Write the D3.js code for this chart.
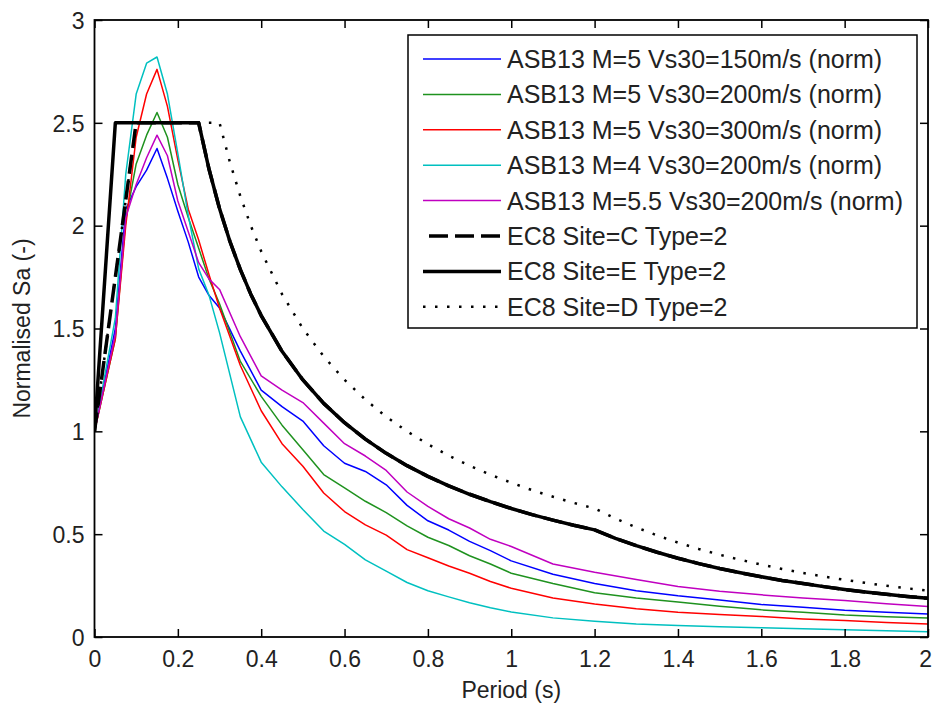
<!DOCTYPE html>
<html>
<head>
<meta charset="utf-8">
<script src="https://cdn.jsdelivr.net/npm/d3@7"></script>
<style>
  html, body { margin: 0; padding: 0; background: #ffffff; }
  svg { display: block; font-family: "Liberation Sans", Arial, Helvetica, sans-serif; }
</style>
</head>
<body>
<svg id="chart" width="932" height="704"></svg>
<script>
// ---------------- DATA ----------------
const xTicks = [0, 0.2, 0.4, 0.6, 0.8, 1, 1.2, 1.4, 1.6, 1.8, 2];
const yTicks = [0, 0.5, 1, 1.5, 2, 2.5, 3];

const asbPeriods = [0, 0.05, 0.075, 0.1, 0.125, 0.15, 0.175, 0.2, 0.225, 0.25, 0.275, 0.3,
  0.35, 0.4, 0.45, 0.5, 0.55, 0.6, 0.65, 0.7, 0.75, 0.8, 0.85, 0.9, 0.95, 1.0,
  1.1, 1.2, 1.3, 1.4, 1.5, 1.6, 1.7, 1.8, 1.9, 2.0];

const asbM5Vs150 = [1.0, 1.5, 2.08, 2.19, 2.27, 2.375, 2.23, 2.07, 1.92, 1.75, 1.66, 1.60,
  1.39, 1.20, 1.12, 1.05, 0.93, 0.845, 0.805, 0.74, 0.64, 0.565, 0.52, 0.465, 0.42, 0.37,
  0.305, 0.26, 0.225, 0.2, 0.18, 0.158, 0.145, 0.13, 0.12, 0.112];
const asbM5Vs200 = [1.0, 1.45, 2.03, 2.3, 2.44, 2.55, 2.43, 2.2, 2.04, 1.89, 1.74, 1.62,
  1.34, 1.17, 1.03, 0.91, 0.79, 0.725, 0.66, 0.605, 0.54, 0.485, 0.445, 0.395, 0.355, 0.31,
  0.26, 0.215, 0.19, 0.17, 0.15, 0.132, 0.12, 0.107, 0.099, 0.092];
const asbM5Vs300 = [1.0, 1.45, 2.0, 2.43, 2.64, 2.76, 2.58, 2.32, 2.08, 1.93, 1.76, 1.6,
  1.32, 1.1, 0.94, 0.83, 0.70, 0.61, 0.545, 0.495, 0.425, 0.385, 0.345, 0.31, 0.27, 0.237,
  0.19, 0.16, 0.137, 0.12, 0.11, 0.1, 0.088, 0.08, 0.07, 0.063];
const asbM4Vs200 = [1.0, 1.55, 2.25, 2.64, 2.79, 2.82, 2.64, 2.35, 2.05, 1.79, 1.66, 1.48,
  1.07, 0.85, 0.73, 0.62, 0.515, 0.45, 0.375, 0.32, 0.265, 0.225, 0.195, 0.167, 0.142, 0.122,
  0.093, 0.077, 0.063, 0.056, 0.05, 0.045, 0.04, 0.035, 0.03, 0.026];
const asbM55Vs200 = [1.0, 1.47, 2.04, 2.2, 2.33, 2.44, 2.34, 2.12, 1.97, 1.82, 1.74, 1.69,
  1.46, 1.27, 1.2, 1.14, 1.04, 0.94, 0.88, 0.81, 0.705, 0.635, 0.575, 0.53, 0.475, 0.44,
  0.355, 0.315, 0.28, 0.245, 0.222, 0.205, 0.19, 0.177, 0.162, 0.148];

const ec8TailPeriods = [0.25, 0.275, 0.3, 0.325, 0.35, 0.375, 0.4, 0.45, 0.5, 0.55, 0.6, 0.65,
  0.7, 0.75, 0.8, 0.85, 0.9, 0.95, 1.0, 1.05, 1.1, 1.15, 1.2, 1.25, 1.3, 1.35, 1.4, 1.45,
  1.5, 1.55, 1.6, 1.65, 1.7, 1.75, 1.8, 1.85, 1.9, 1.95, 2.0];
const ec8TailValues = [2.5, 2.273, 2.083, 1.923, 1.786, 1.667, 1.563, 1.389, 1.25, 1.136, 1.042, 0.962,
  0.893, 0.833, 0.781, 0.735, 0.694, 0.658, 0.625, 0.595, 0.568, 0.543, 0.521, 0.48, 0.444, 0.412,
  0.383, 0.357, 0.333, 0.312, 0.293, 0.275, 0.26, 0.245, 0.231, 0.219, 0.208, 0.197, 0.188];

const ec8C_periods = [0, 0.1].concat(ec8TailPeriods);
const ec8C_values = [1, 2.5].concat(ec8TailValues);
const ec8E_periods = [0, 0.05].concat(ec8TailPeriods);
const ec8E_values = [1, 2.5].concat(ec8TailValues);
const ec8D_periods = [0, 0.1, 0.3, 0.325, 0.35, 0.375, 0.4, 0.45, 0.5, 0.55, 0.6, 0.65, 0.7,
  0.75, 0.8, 0.85, 0.9, 0.95, 1.0, 1.05, 1.1, 1.15, 1.2, 1.25, 1.3, 1.35, 1.4, 1.45, 1.5,
  1.55, 1.6, 1.65, 1.7, 1.75, 1.8, 1.85, 1.9, 1.95, 2.0];
const ec8D_values = [1, 2.5, 2.5, 2.308, 2.143, 2.0, 1.875, 1.667, 1.5, 1.364, 1.25, 1.154, 1.071,
  1.0, 0.9375, 0.882, 0.833, 0.789, 0.75, 0.714, 0.682, 0.652, 0.625, 0.576, 0.533, 0.494,
  0.459, 0.428, 0.4, 0.375, 0.352, 0.331, 0.311, 0.294, 0.278, 0.263, 0.249, 0.237, 0.225];

const seriesNames = [
  "ASB13 M=5 Vs30=150m/s (norm)",
  "ASB13 M=5 Vs30=200m/s (norm)",
  "ASB13 M=5 Vs30=300m/s (norm)",
  "ASB13 M=4 Vs30=200m/s (norm)",
  "ASB13 M=5.5 Vs30=200m/s (norm)",
  "EC8 Site=C Type=2",
  "EC8 Site=E Type=2",
  "EC8 Site=D Type=2"
];

// ---------------- BUILD ----------------
const series = [
  { name: seriesNames[0], x: asbPeriods, y: asbM5Vs150, color: "#0000ff", width: 1.5, dash: null },
  { name: seriesNames[1], x: asbPeriods, y: asbM5Vs200, color: "#1f921f", width: 1.5, dash: null },
  { name: seriesNames[2], x: asbPeriods, y: asbM5Vs300, color: "#ff0000", width: 1.5, dash: null },
  { name: seriesNames[3], x: asbPeriods, y: asbM4Vs200, color: "#00c0c0", width: 1.5, dash: null },
  { name: seriesNames[4], x: asbPeriods, y: asbM55Vs200, color: "#c000c0", width: 1.5, dash: null },
  { name: seriesNames[5], x: ec8C_periods, y: ec8C_values, color: "#000000", width: 3.5, dash: "19 7" },
  { name: seriesNames[6], x: ec8E_periods, y: ec8E_values, color: "#000000", width: 3.5, dash: null },
  { name: seriesNames[7], x: ec8D_periods, y: ec8D_values, color: "#000000", width: 2.5, dash: "2.5 9.5" }
];

const W = 932, H = 704;
const plot = { left: 94.5, right: 928, top: 20, bottom: 637 };

const svg = d3.select("#chart");
svg.append("rect").attr("x", 0).attr("y", 0).attr("width", W).attr("height", H).attr("fill", "#fff");

const x = d3.scaleLinear().domain([0, 2]).range([plot.left, plot.right]);
const y = d3.scaleLinear().domain([0, 3]).range([plot.bottom, plot.top]);

svg.append("clipPath").attr("id", "clip")
  .append("rect").attr("x", plot.left).attr("y", plot.top)
  .attr("width", plot.right - plot.left).attr("height", plot.bottom - plot.top);

const line = d3.line().x(d => x(d[0])).y(d => y(d[1]));

const lines = svg.append("g").attr("clip-path", "url(#clip)");
series.forEach(s => {
  const pts = s.x.map((t, i) => [t, s.y[i]]);
  lines.append("path")
    .datum(pts)
    .attr("d", line)
    .attr("fill", "none")
    .attr("stroke", s.color)
    .attr("stroke-width", s.width)
    .attr("stroke-dasharray", s.dash)
    .attr("stroke-linejoin", "round");
});

// axes
const fontSize = 23;
const tickLen = 8;
const fmt = d3.format("");

const gBottom = svg.append("g").attr("transform", `translate(0,${plot.bottom})`)
  .call(d3.axisBottom(x).tickValues(xTicks).tickFormat(d => fmt(d))
    .tickSizeInner(-tickLen).tickSizeOuter(0).tickPadding(14));
const gTop = svg.append("g").attr("transform", `translate(0,${plot.top})`)
  .call(d3.axisBottom(x).tickValues(xTicks).tickFormat("")
    .tickSizeInner(tickLen).tickSizeOuter(0));
const gLeft = svg.append("g").attr("transform", `translate(${plot.left},0)`)
  .call(d3.axisLeft(y).tickValues(yTicks).tickFormat(d => fmt(d))
    .tickSizeInner(-tickLen).tickSizeOuter(0).tickPadding(10));
const gRight = svg.append("g").attr("transform", `translate(${plot.right},0)`)
  .call(d3.axisLeft(y).tickValues(yTicks).tickFormat("")
    .tickSizeInner(tickLen).tickSizeOuter(0));

[gBottom, gTop, gLeft, gRight].forEach(g => {
  g.select(".domain").remove();
  g.selectAll(".tick line").attr("stroke", "#000").attr("stroke-width", 1.5);
  g.selectAll(".tick text").attr("fill", "#222").style("font-size", fontSize + "px")
    .style("font-family", "'Liberation Sans', Arial, sans-serif");
});
gLeft.selectAll(".tick text").attr("dy", "0.36em");
// keep the last x label inside the page (reference shows it at the right edge)
gBottom.selectAll(".tick text").filter(d => d === xTicks[xTicks.length - 1])
  .attr("text-anchor", "end").attr("x", 3.5);

// box
svg.append("rect")
  .attr("x", plot.left).attr("y", plot.top)
  .attr("width", plot.right - plot.left).attr("height", plot.bottom - plot.top)
  .attr("fill", "none").attr("stroke", "#000").attr("stroke-width", 1.8);

// axis labels
svg.append("text")
  .attr("x", (plot.left + plot.right) / 2).attr("y", 698)
  .attr("text-anchor", "middle").attr("fill", "#222")
  .style("font-size", fontSize + "px")
  .text("Period (s)");
svg.append("text")
  .attr("transform", `translate(30,${(plot.top + plot.bottom) / 2}) rotate(-90)`)
  .attr("text-anchor", "middle").attr("fill", "#222")
  .style("font-size", fontSize + "px")
  .text("Normalised Sa (-)");

// legend
const leg = { x: 408, y: 35, w: 509, h: 293, row0: 59, rowStep: 35.4, lx1: 423, lx2: 501, tx: 507 };
svg.append("rect")
  .attr("x", leg.x).attr("y", leg.y).attr("width", leg.w).attr("height", leg.h)
  .attr("fill", "#fff").attr("stroke", "#000").attr("stroke-width", 1.5);
const legRows = svg.append("g").selectAll("g").data(series).join("g")
  .attr("transform", (d, i) => `translate(0,${leg.row0 + i * leg.rowStep})`);
legRows.append("line")
  .attr("x1", d => d.dash === "19 7" ? leg.lx1 + 6 : leg.lx1).attr("x2", leg.lx2)
  .attr("y1", 0).attr("y2", 0)
  .attr("stroke", d => d.color)
  .attr("stroke-width", d => d.width)
  .attr("stroke-dasharray", d => d.dash);
legRows.append("text")
  .attr("x", leg.tx).attr("y", 0).attr("dy", "0.36em")
  .attr("fill", "#222")
  .style("font-size", "25px")
  .text(d => d.name);
</script>
</body>
</html>
